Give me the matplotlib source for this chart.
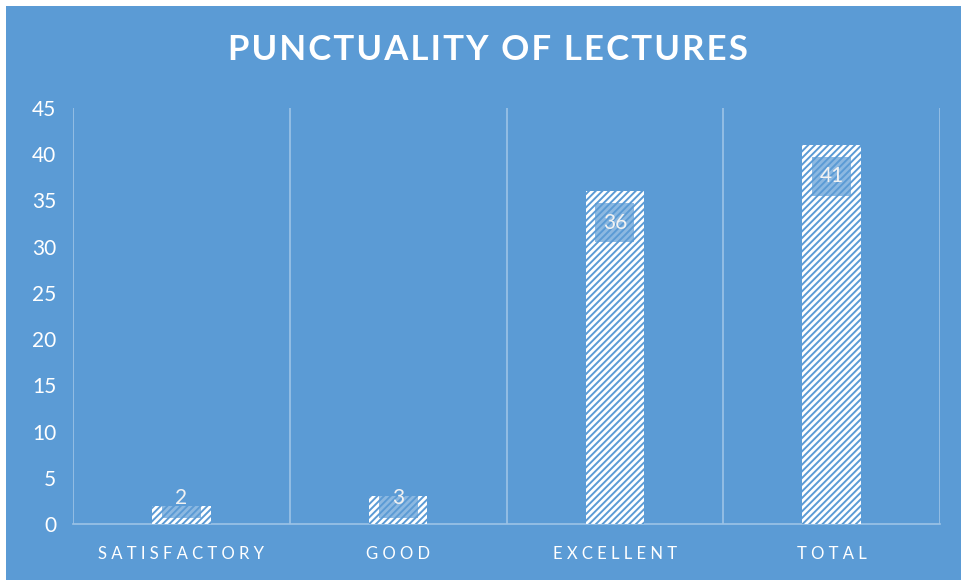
import matplotlib
matplotlib.use('Agg')
import matplotlib.pyplot as plt
from matplotlib.patches import Rectangle
import numpy as np

categories = ['SATISFACTORY', 'GOOD', 'EXCELLENT', 'TOTAL']
values = [2, 3, 36, 41]
yticks = [0, 5, 10, 15, 20, 25, 30, 35, 40, 45]
title = 'PUNCTUALITY OF LECTURES'

bg = '#5B9BD5'
grid_c = '#9DC3E6'

plt.rcParams['font.family'] = ['Lato', 'DejaVu Sans']
plt.rcParams['hatch.linewidth'] = 1.4

fig = plt.figure(figsize=(9.61, 5.8), dpi=100, facecolor='white')
# blue chart area, white strip at top/left
fig.patches.append(Rectangle((6 / 961, 0), 1, 1 - 6 / 580, transform=fig.transFigure,
                             facecolor=bg, edgecolor='none', zorder=-10))

ax = fig.add_axes([73 / 961, 1 - 524 / 580, (940 - 73) / 961, (524 - 108) / 580])
ax.set_facecolor('none')

x = np.arange(len(categories))
bars = ax.bar(x, values, width=0.27, color='white', edgecolor=bg, hatch='/////',
              linewidth=0, zorder=3)

ax.set_xlim(-0.5, len(categories) - 0.5)
ax.set_ylim(0, 45)
ax.set_yticks(yticks)
ax.set_xticks(x)
spaced = [' '.join(c) for c in categories]
ax.set_xticklabels(spaced, color='white', fontsize=12)
ax.tick_params(axis='y', colors='white', labelsize=15, length=0, pad=12)
ax.tick_params(axis='x', length=0, pad=16)

for s in ['top', 'right', 'left']:
    ax.spines[s].set_visible(False)
ax.spines['bottom'].set_color(grid_c)
ax.spines['bottom'].set_linewidth(1.2)

for b in np.arange(-0.5, len(categories), 1.0):
    ax.axvline(b, color=grid_c, linewidth=1.2, zorder=1)

# value labels with translucent box clipped to bar
for xi, v, bar in zip(x, values, bars):
    ly = max(v - 3.4, 2.8)
    box = Rectangle((xi - 0.09, ly - 2.1), 0.18, 4.2, facecolor=bg,
                    alpha=0.7, edgecolor='none', zorder=4)
    ax.add_patch(box)
    box.set_clip_path(bar)
    ax.text(xi, ly, str(v), ha='center', va='center', color='#F2F2F2',
            fontsize=15, zorder=5)

fig.text(488 / 961, 1 - 50 / 580, '\u200a'.join(title), ha='center', va='center',
         color='white', fontsize=25, fontweight='bold')

fig.savefig('out.png', dpi=100, facecolor='white')
